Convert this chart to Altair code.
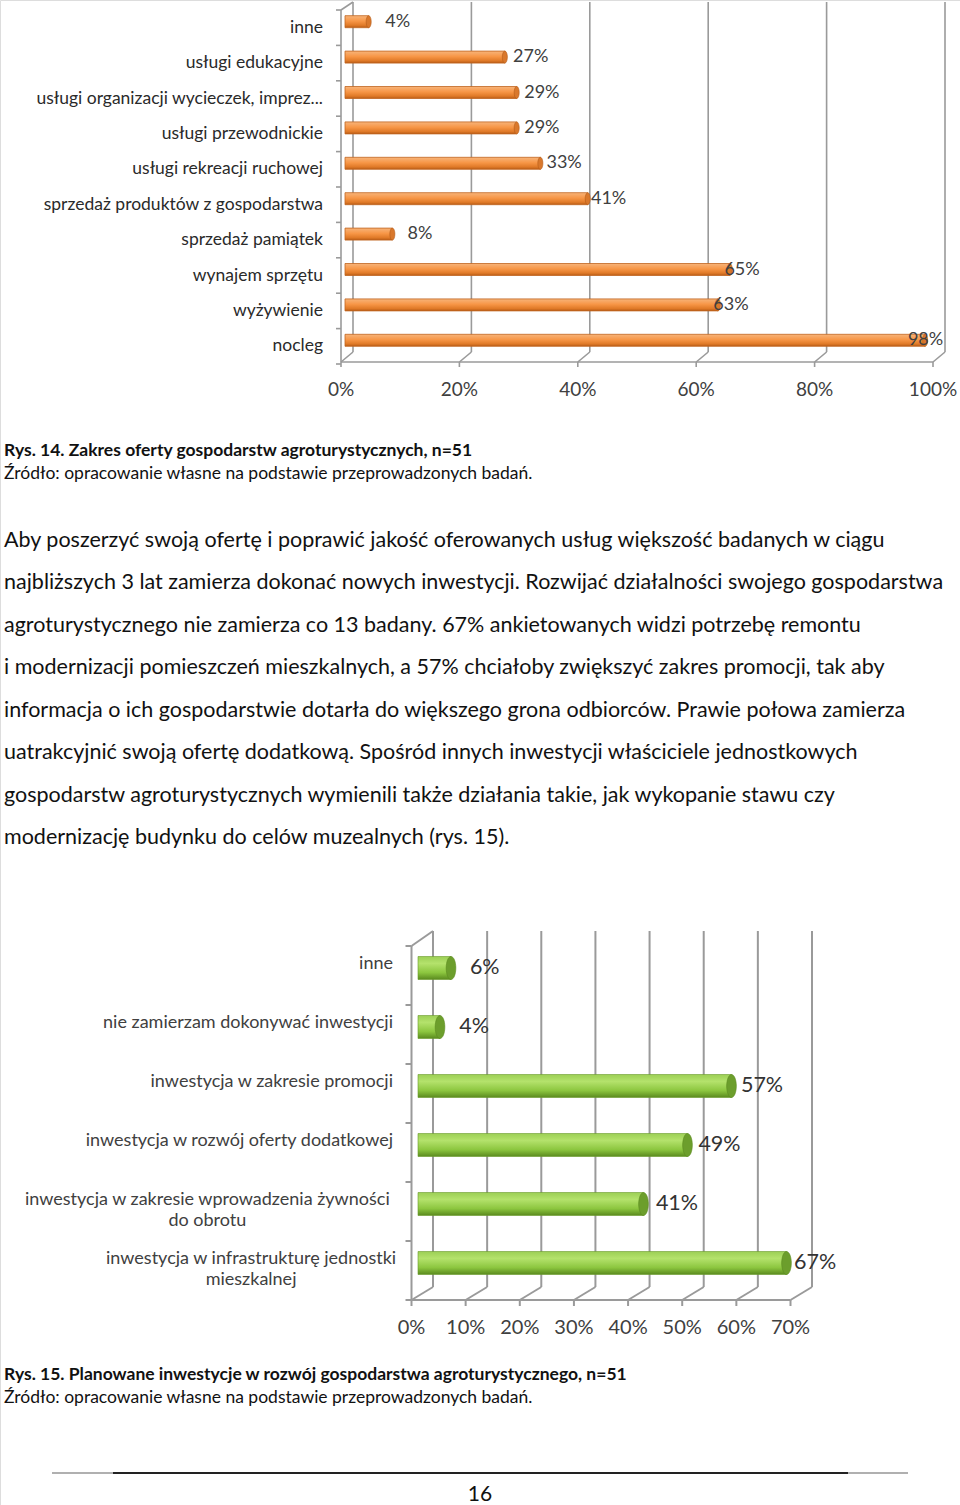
import altair as alt
import pandas as pd

# ---------------- data ----------------
c1_categories = [
    "inne",
    "usługi edukacyjne",
    "usługi organizacji wycieczek, imprez...",
    "usługi przewodnickie",
    "usługi rekreacji ruchowej",
    "sprzedaż produktów z gospodarstwa",
    "sprzedaż pamiątek",
    "wynajem sprzętu",
    "wyżywienie",
    "nocleg",
]
c1_values = [0.04, 0.27, 0.29, 0.29, 0.33, 0.41, 0.08, 0.65, 0.63, 0.98]
c1_ticks = [0.0, 0.2, 0.4, 0.6, 0.8, 1.0]
c1_tick_labels = ["0%", "20%", "40%", "60%", "80%", "100%"]

c2_categories = [
    "inne",
    "nie zamierzam dokonywać inwestycji",
    "inwestycja w zakresie promocji",
    "inwestycja w rozwój oferty dodatkowej",
    "inwestycja w zakresie wprowadzenia żywności do obrotu",
    "inwestycja w infrastrukturę jednostki mieszkalnej",
]
c2_label_lines = [
    ["inne"],
    ["nie zamierzam dokonywać inwestycji"],
    ["inwestycja w zakresie promocji"],
    ["inwestycja w rozwój oferty dodatkowej"],
    ["inwestycja w zakresie wprowadzenia żywności", "do obrotu"],
    ["inwestycja w infrastrukturę jednostki", "mieszkalnej"],
]
c2_values = [0.06, 0.04, 0.57, 0.49, 0.41, 0.67]
c2_ticks = [0.0, 0.1, 0.2, 0.3, 0.4, 0.5, 0.6, 0.7]
c2_tick_labels = ["0%", "10%", "20%", "30%", "40%", "50%", "60%", "70%"]

caption1_title = "Rys. 14. Zakres oferty gospodarstw agroturystycznych, n=51"
caption2_title = "Rys. 15. Planowane inwestycje w rozwój gospodarstwa agroturystycznego, n=51"
source_note = "Źródło: opracowanie własne na podstawie przeprowadzonych badań."
paragraph_lines = [
    "Aby poszerzyć swoją ofertę i poprawić jakość oferowanych usług większość badanych w ciągu",
    "najbliższych 3 lat zamierza dokonać nowych inwestycji. Rozwijać działalności swojego gospodarstwa",
    "agroturystycznego nie zamierza co 13 badany. 67% ankietowanych widzi potrzebę remontu",
    "i modernizacji pomieszczeń mieszkalnych, a 57% chciałoby zwiększyć zakres promocji, tak aby",
    "informacja o ich gospodarstwie dotarła do większego grona odbiorców. Prawie połowa zamierza",
    "uatrakcyjnić swoją ofertę dodatkową. Spośród innych inwestycji właściciele jednostkowych",
    "gospodarstw agroturystycznych wymienili także działania takie, jak wykopanie stawu czy",
    "modernizację budynku do celów muzealnych (rys. 15).",
]
page_number = "16"

# ---------------- styles / layout ----------------
FONT = "Lato"
BODY = "#111111"
LBL = "#2a2a2a"
GRID = "#9a9a9a"
W, H = 960, 1505

ORANGE = alt.Gradient(
    gradient="linear", x1=0, x2=0, y1=0, y2=1,
    stops=[
        alt.GradientStop(color="#f7b47a", offset=0),
        alt.GradientStop(color="#f79646", offset=0.45),
        alt.GradientStop(color="#e07a28", offset=0.8),
        alt.GradientStop(color="#b85c16", offset=1),
    ],
)
GREEN = alt.Gradient(
    gradient="linear", x1=0, x2=0, y1=0, y2=1,
    stops=[
        alt.GradientStop(color="#9ccf55", offset=0),
        alt.GradientStop(color="#b4e26c", offset=0.3),
        alt.GradientStop(color="#8cc63f", offset=0.7),
        alt.GradientStop(color="#5a8a1e", offset=1),
    ],
)
ELLIPSE = "M0,-1A0.42,1,0,1,1,0,1A0.42,1,0,1,1,0,-1Z"


def qs(domain, rng):
    return alt.Scale(domain=domain, range=rng, zero=False, nice=False)


def bs(domain, rng):
    return alt.Scale(type="band", domain=domain, range=rng, paddingInner=0, paddingOuter=0)


def est_em(s):
    """Rough text width in em, used only to centre two-line labels."""
    w = 0.0
    for ch in s:
        if ch in "ijlt.,;:'!|":
            w += 0.25
        elif ch in "frsś":
            w += 0.38
        elif ch == " ":
            w += 0.26
        elif ch in "mw":
            w += 0.8
        else:
            w += 0.53
    return w


layers = []

# ======== Chart 1 ========
X1_FRONT = [341, 933]
X1_BACK = [353, 945]
X1_BAR = [345, 937]
X1_LAB = [363, 919]
Y1_LAB = [10, 364]
Y1_BAR = [4, 358]
D1 = (X1_BACK[0] - X1_FRONT[0]) / (X1_FRONT[1] - X1_FRONT[0])
Y1_TOP_BACK, Y1_FLOOR_BACK, Y1_FLOOR = 2, 352, 362

df1 = pd.DataFrame({"cat": c1_categories, "val": c1_values})
df1["lab"] = [f"{round(v * 100)}%" for v in c1_values]
t1 = pd.DataFrame({"t": c1_ticks, "lab": c1_tick_labels})
t1["tb"] = t1["t"] + D1

layers.append(
    alt.Chart(t1).mark_rule(color=GRID, strokeWidth=1.6).encode(
        x=alt.X("t:Q", scale=qs([0, 1], X1_BACK), axis=None),
        y=alt.value(Y1_TOP_BACK), y2=alt.value(Y1_FLOOR_BACK),
    )
)
layers.append(
    alt.Chart(t1).mark_rule(color=GRID, strokeWidth=1.6).encode(
        x=alt.X("t:Q", scale=qs([0, 1], X1_FRONT), axis=None), x2="tb:Q",
        y=alt.value(Y1_FLOOR), y2=alt.value(Y1_FLOOR_BACK),
    )
)
layers.append(
    alt.Chart(t1.iloc[:1]).mark_rule(color=GRID, strokeWidth=1.6).encode(
        x=alt.X("t:Q", scale=qs([0, 1], X1_FRONT), axis=None), x2="tb:Q",
        y=alt.value(Y1_LAB[0]), y2=alt.value(Y1_TOP_BACK),
    )
)
layers.append(
    alt.Chart(t1.iloc[:1]).mark_rule(color=GRID, strokeWidth=1.6).encode(
        x=alt.X("t:Q", scale=qs([0, 1], X1_FRONT), axis=None),
        y=alt.value(Y1_LAB[0]), y2=alt.value(Y1_FLOOR),
    )
)
layers.append(
    alt.Chart(t1.iloc[[0, -1]]).mark_line(color=GRID, strokeWidth=1.6).encode(
        x=alt.X("t:Q", scale=qs([0, 1], X1_FRONT), axis=None),
        y=alt.value(Y1_FLOOR),
    )
)
layers.append(
    alt.Chart(t1).mark_rule(color=GRID, strokeWidth=1.6).encode(
        x=alt.X("t:Q", scale=qs([0, 1], X1_FRONT), axis=None),
        y=alt.value(Y1_FLOOR), y2=alt.value(Y1_FLOOR + 5),
    )
)
yt1 = pd.DataFrame({"i": list(range(len(c1_categories) + 1))})
layers.append(
    alt.Chart(yt1).mark_rule(color=GRID, strokeWidth=1.6).encode(
        y=alt.Y("i:Q", scale=qs([0, len(c1_categories)], Y1_LAB), axis=None),
        x=alt.value(X1_FRONT[0] - 5), x2=alt.value(X1_FRONT[0]),
    )
)
layers.append(
    alt.Chart(df1).mark_bar(fill=ORANGE, stroke="#c0651f", strokeWidth=0.8, size=12).encode(
        x=alt.X("val:Q", scale=qs([0, 1], X1_BAR), axis=None),
        y=alt.Y("cat:N", scale=bs(c1_categories, Y1_BAR), axis=None),
    )
)
layers.append(
    alt.Chart(df1).mark_point(shape=ELLIPSE, size=144, filled=True, fill="#d9782c",
                              stroke="#b35a18", strokeWidth=0.6, opacity=1).encode(
        x=alt.X("val:Q", scale=qs([0, 1], X1_BAR), axis=None),
        y=alt.Y("cat:N", scale=bs(c1_categories, Y1_BAR), axis=None),
    )
)
layers.append(
    alt.Chart(df1).mark_text(align="left", baseline="middle", font=FONT, fontSize=18, color="#404040").encode(
        x=alt.X("val:Q", scale=qs([0, 1], X1_LAB), axis=None),
        y=alt.Y("cat:N", scale=bs(c1_categories, Y1_BAR), axis=None),
        text="lab:N",
    )
)
layers.append(
    alt.Chart(df1).mark_text(align="right", baseline="middle", font=FONT, fontSize=17.5, color=LBL).encode(
        y=alt.Y("cat:N", scale=bs(c1_categories, Y1_LAB), axis=None),
        x=alt.value(323),
        text="cat:N",
    )
)
layers.append(
    alt.Chart(t1).mark_text(align="center", baseline="middle", font=FONT, fontSize=19, color="#404040").encode(
        x=alt.X("t:Q", scale=qs([0, 1], X1_FRONT), axis=None),
        y=alt.value(390),
        text="lab:N",
    )
)

# ======== text blocks ========
def text_row(txt, x, y, size, bold=False, align="left", color=BODY):
    return alt.Chart(pd.DataFrame({"s": [txt]})).mark_text(
        align=align, baseline="middle", font=FONT, fontSize=size,
        fontWeight="bold" if bold else "normal", color=color,
    ).encode(x=alt.value(x), y=alt.value(y), text="s:N")


layers.append(text_row(caption1_title, 4, 451, 17.5, bold=True))
layers.append(text_row(source_note, 4, 474, 17.5))

dp = pd.DataFrame({"i": list(range(len(paragraph_lines))), "s": paragraph_lines})
layers.append(
    alt.Chart(dp).mark_text(align="left", baseline="middle", font=FONT, fontSize=21.5, color=BODY).encode(
        y=alt.Y("i:Q", scale=qs([0, len(paragraph_lines) - 1], [541, 838]), axis=None),
        x=alt.value(4),
        text="s:N",
    )
)

# ======== Chart 2 ========
X2_FRONT = [411.5, 790.5]
X2_BACK = [433, 812]
X2_BAR = [418, 803]
X2_LAB = [438, 810]
Y2_AX = [946, 1300]
Y2_BAR = [938.5, 1292.5]
D2 = (X2_BACK[0] - X2_FRONT[0]) / (X2_FRONT[1] - X2_FRONT[0]) * 0.7
Y2_TOP_BACK, Y2_FLOOR_BACK, Y2_FLOOR = 931, 1287, 1300
C2_LABEL_FS = 18
C2_LABEL_RIGHT = 393

df2 = pd.DataFrame({"cat": c2_categories, "val": c2_values})
df2["lab"] = [f"{round(v * 100)}%" for v in c2_values]
df2["lines"] = c2_label_lines
df2["n"] = [len(l) for l in c2_label_lines]
# centre of the (right-edged) label block, for centre-aligned multi-line labels
df2["cx"] = [C2_LABEL_RIGHT - max(est_em(s) for s in l) * C2_LABEL_FS / 2 for l in c2_label_lines]
t2 = pd.DataFrame({"t": c2_ticks, "lab": c2_tick_labels})
t2["tb"] = t2["t"] + D2

layers.append(
    alt.Chart(t2).mark_rule(color=GRID, strokeWidth=2).encode(
        x=alt.X("t:Q", scale=qs([0, 0.7], X2_BACK), axis=None),
        y=alt.value(Y2_TOP_BACK), y2=alt.value(Y2_FLOOR_BACK),
    )
)
layers.append(
    alt.Chart(t2).mark_rule(color=GRID, strokeWidth=2).encode(
        x=alt.X("t:Q", scale=qs([0, 0.7], X2_FRONT), axis=None), x2="tb:Q",
        y=alt.value(Y2_FLOOR), y2=alt.value(Y2_FLOOR_BACK),
    )
)
layers.append(
    alt.Chart(t2.iloc[:1]).mark_rule(color=GRID, strokeWidth=2).encode(
        x=alt.X("t:Q", scale=qs([0, 0.7], X2_FRONT), axis=None), x2="tb:Q",
        y=alt.value(Y2_AX[0]), y2=alt.value(Y2_TOP_BACK),
    )
)
layers.append(
    alt.Chart(t2.iloc[:1]).mark_rule(color=GRID, strokeWidth=2).encode(
        x=alt.X("t:Q", scale=qs([0, 0.7], X2_FRONT), axis=None),
        y=alt.value(Y2_AX[0]), y2=alt.value(Y2_FLOOR),
    )
)
layers.append(
    alt.Chart(t2.iloc[[0, -1]]).mark_line(color=GRID, strokeWidth=2).encode(
        x=alt.X("t:Q", scale=qs([0, 0.7], X2_FRONT), axis=None),
        y=alt.value(Y2_FLOOR),
    )
)
layers.append(
    alt.Chart(t2).mark_rule(color=GRID, strokeWidth=2).encode(
        x=alt.X("t:Q", scale=qs([0, 0.7], X2_FRONT), axis=None),
        y=alt.value(Y2_FLOOR), y2=alt.value(Y2_FLOOR + 6),
    )
)
yt2 = pd.DataFrame({"i": list(range(len(c2_categories) + 1))})
layers.append(
    alt.Chart(yt2).mark_rule(color=GRID, strokeWidth=2).encode(
        y=alt.Y("i:Q", scale=qs([0, len(c2_categories)], Y2_AX), axis=None),
        x=alt.value(X2_FRONT[0] - 6), x2=alt.value(X2_FRONT[0]),
    )
)
layers.append(
    alt.Chart(df2).mark_bar(fill=GREEN, stroke="#6a9a2a", strokeWidth=0.6, size=23).encode(
        x=alt.X("val:Q", scale=qs([0, 0.7], X2_BAR), axis=None),
        y=alt.Y("cat:N", scale=bs(c2_categories, Y2_BAR), axis=None),
    )
)
layers.append(
    alt.Chart(df2).mark_point(shape=ELLIPSE, size=529, filled=True, fill="#6c9e2c",
                              stroke="#5a8a1e", strokeWidth=0.6, opacity=1).encode(
        x=alt.X("val:Q", scale=qs([0, 0.7], X2_BAR), axis=None),
        y=alt.Y("cat:N", scale=bs(c2_categories, Y2_BAR), axis=None),
    )
)
layers.append(
    alt.Chart(df2).mark_text(align="left", baseline="middle", font=FONT, fontSize=21.5, color="#333333").encode(
        x=alt.X("val:Q", scale=qs([0, 0.7], X2_LAB), axis=None),
        y=alt.Y("cat:N", scale=bs(c2_categories, Y2_BAR), axis=None),
        text="lab:N",
    )
)
layers.append(
    alt.Chart(df2[df2["n"] == 1]).mark_text(align="right", baseline="top", dy=-13, font=FONT,
                                            fontSize=C2_LABEL_FS, color="#404040").encode(
        y=alt.Y("cat:N", scale=bs(c2_categories, Y2_BAR), axis=None),
        x=alt.value(C2_LABEL_RIGHT),
        text="lines",
    )
)
layers.append(
    alt.Chart(df2[df2["n"] > 1]).mark_text(align="center", baseline="top", dy=-13, font=FONT,
                                           fontSize=C2_LABEL_FS, lineHeight=21, color="#404040").encode(
        y=alt.Y("cat:N", scale=bs(c2_categories, Y2_BAR), axis=None),
        x=alt.X("cx:Q", scale=alt.Scale(domain=[0, W], range=[0, W], zero=False, nice=False), axis=None),
        text="lines",
    )
)
layers.append(
    alt.Chart(t2).mark_text(align="center", baseline="middle", font=FONT, fontSize=20, color="#404040").encode(
        x=alt.X("t:Q", scale=qs([0, 0.7], X2_FRONT), axis=None),
        y=alt.value(1328),
        text="lab:N",
    )
)

layers.append(text_row(caption2_title, 4, 1375, 17.5, bold=True))
layers.append(text_row(source_note, 4, 1398, 17.5))

layers.append(
    alt.Chart(pd.DataFrame({"a": [0]})).mark_rule(color="#b0b0b0", strokeWidth=2).encode(
        x=alt.value(52), x2=alt.value(908), y=alt.value(1473)
    )
)
layers.append(
    alt.Chart(pd.DataFrame({"a": [0]})).mark_rule(color="#222222", strokeWidth=2).encode(
        x=alt.value(113), x2=alt.value(848), y=alt.value(1473)
    )
)
layers.append(text_row(page_number, 480, 1495, 21, align="center"))

chart = (
    alt.layer(*layers)
    .resolve_scale(x="independent", y="independent")
    .properties(width=W, height=H, autosize=alt.AutoSizeParams(type="none"), padding=0)
    .configure_view(stroke=None)
    .configure(background="white")
)

chart.save("out.html", embed_options={"renderer": "svg", "actions": False})
